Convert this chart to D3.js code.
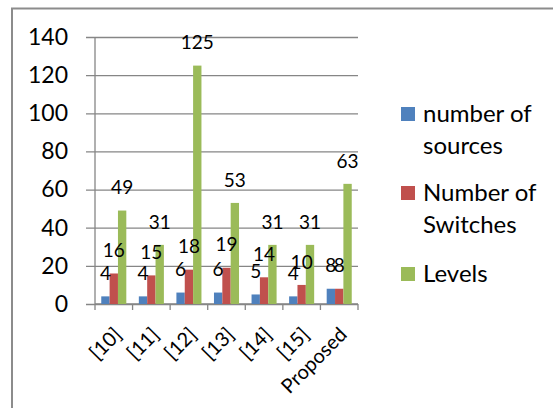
<!DOCTYPE html>
<html>
<head>
<meta charset="utf-8">
<script src="https://cdn.jsdelivr.net/npm/d3@7"></script>
<style>
  body { margin: 0; background: #fff; }
  svg { display: block; font-family: Lato, "Open Sans", sans-serif; }
</style>
</head>
<body>
<div id="chart"></div>
<script>
// data
const categories = ["[10]", "[11]", "[12]", "[13]", "[14]", "[15]", "Proposed"];
const seriesNames = ["number of sources", "Number of Switches", "Levels"];
const sources = [4, 4, 6, 6, 5, 4, 8];
const switches = [16, 15, 18, 19, 14, 10, 8];
const levels = [49, 31, 125, 53, 31, 31, 63];
const yTicks = [0, 20, 40, 60, 80, 100, 120, 140];
const colors = ["#4f81bd", "#c0504d", "#9bbb59"];
const legendLines = [["number of", "sources"], ["Number of", "Switches"], ["Levels"]];

const width = 553, height = 408;
const plot = { left: 95, right: 358, top: 37, bottom: 304 };

const svg = d3.select("#chart").append("svg")
    .attr("width", width)
    .attr("height", height);

// outer frame (cut off at right/bottom like the picture)
svg.append("path")
    .attr("d", `M12,${height + 5}V8.5H${width + 5}`)
    .attr("fill", "none")
    .attr("stroke", "#8c8c8c")
    .attr("stroke-width", 2);

const x = d3.scaleBand()
    .domain(categories)
    .range([plot.left, plot.right]);

const xSub = d3.scaleBand()
    .domain(seriesNames)
    .range([0, x.bandwidth()])
    .paddingOuter(0.75);

const y = d3.scaleLinear()
    .domain([0, 140])
    .range([plot.bottom, plot.top]);

// gridlines + y labels
const yAxis = d3.axisLeft(y)
    .tickValues(yTicks)
    .tickSize(-(plot.right - plot.left) - 9)
    .tickPadding(18);

svg.append("g")
    .attr("transform", `translate(${plot.left - 9},0)`)
    .call(yAxis)
    .call(g => g.select(".domain").remove())
    .call(g => g.selectAll(".tick line").attr("stroke", "#868686").attr("stroke-width", 1.3))
    .call(g => g.selectAll(".tick text")
        .attr("fill", "#000")
        .attr("font-size", 23)
        .attr("font-family", "Lato, sans-serif"));

// vertical axis line
svg.append("line")
    .attr("x1", plot.left).attr("x2", plot.left)
    .attr("y1", plot.top).attr("y2", plot.bottom)
    .attr("stroke", "#868686")
    .attr("stroke-width", 1.3);

// x axis with boundary ticks
const xAxisG = svg.append("g");
xAxisG.append("line")
    .attr("x1", plot.left).attr("x2", plot.right)
    .attr("y1", plot.bottom).attr("y2", plot.bottom)
    .attr("stroke", "#868686")
    .attr("stroke-width", 1.3);
const boundaries = categories.map(c => x(c)).concat([x(categories[categories.length - 1]) + x.bandwidth()]);
xAxisG.selectAll(".xt")
    .data(boundaries)
    .enter()
    .append("line")
    .attr("x1", d => d).attr("x2", d => d)
    .attr("y1", plot.bottom).attr("y2", plot.bottom + 6)
    .attr("stroke", "#868686")
    .attr("stroke-width", 1.3);

xAxisG.selectAll(".xl")
    .data(categories)
    .enter()
    .append("text")
    .attr("transform", d => `translate(${x(d) + x.bandwidth() / 2 + 4},${plot.bottom + 27}) rotate(-45)`)
    .attr("text-anchor", "end")
    .attr("dy", "0.35em")
    .attr("font-size", 20)
    .attr("fill", "#000")
    .text(d => d);

// bars
const rows = categories.map((c, i) => ({
    cat: c,
    vals: [sources[i], switches[i], levels[i]]
}));

const groups = svg.selectAll(".grp")
    .data(rows)
    .enter()
    .append("g")
    .attr("transform", d => `translate(${x(d.cat)},0)`);

groups.selectAll("rect")
    .data(d => d.vals.map((v, k) => ({ v, k })))
    .enter()
    .append("rect")
    .attr("x", d => xSub(seriesNames[d.k]))
    .attr("width", xSub.bandwidth())
    .attr("y", d => y(d.v))
    .attr("height", d => y(0) - y(d.v))
    .attr("fill", d => colors[d.k]);

groups.selectAll(".lbl")
    .data(d => d.vals.map((v, k) => ({ v, k })))
    .enter()
    .append("text")
    .attr("x", d => xSub(seriesNames[d.k]) + xSub.bandwidth() / 2)
    .attr("y", d => y(d.v) - 23)
    .attr("dy", "0.35em")
    .attr("text-anchor", "middle")
    .attr("font-size", 19)
    .attr("fill", "#000")
    .text(d => d.v);

// legend
const legendTops = [107, 186, 267];
const legend = svg.append("g");
seriesNames.forEach((s, i) => {
    legend.append("rect")
        .attr("x", 401)
        .attr("y", legendTops[i])
        .attr("width", 14)
        .attr("height", 14)
        .attr("fill", colors[i]);
    legendLines[i].forEach((line, j) => {
        legend.append("text")
            .attr("x", 423)
            .attr("y", legendTops[i] + 7 + j * 32)
            .attr("dy", "0.35em")
            .attr("font-size", 24)
            .attr("fill", "#000")
            .text(line);
    });
});
</script>
</body>
</html>
